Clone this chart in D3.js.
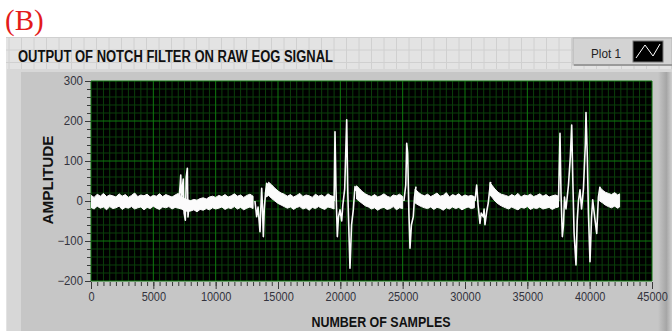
<!DOCTYPE html>
<html>
<head>
<meta charset="utf-8">
<script src="https://d3js.org/d3.v7.min.js"></script>
<style>
  body { margin: 0; background: #fff; }
  text { font-family: "Liberation Sans", Arial, sans-serif; }
</style>
</head>
<body>
<div id="chart"></div>
<script>
// axis ticks
const xTicks = [0, 5000, 10000, 15000, 20000, 25000, 30000, 35000, 40000, 45000];
const yTicks = [-200, -100, 0, 100, 200, 300];

// envelope of the dense noise band (null = band interrupted by a blink)
const bandSamples = [
  0, 250, 500, 750, 1000, 1250, 1500, 1750, 2000, 2250, 2500, 2750, 3000, 3250, 3500, 3750, 4000, 4250, 4500, 4750,
  5000, 5250, 5500, 5750, 6000, 6250, 6500, 6750, 7000,
  7250, 7500, 7750, 8000, 8250, 8500, 8750, 9000, 9250, 9500, 9750, 10000, 10250, 10500, 10750, 11000, 11250,
  11500, 11750, 12000, 12250, 12500, 12750, 13000, 13100,
  14050, 14250, 14500, 14750, 15000, 15250, 15500,
  15750, 16000, 16250, 16500, 16750, 17000, 17250, 17500, 17750, 18000, 18250, 18500, 18750, 19000, 19250, 19500, 19600,
  21300, 21500, 21750, 22000,
  22250, 22500, 22750, 23000, 23250, 23500, 23750, 24000, 24250, 24500, 24750, 25000, 25150,
  26000, 26250, 26500,
  26750, 27000, 27250, 27500, 27750, 28000, 28250, 28500, 28750, 29000, 29250, 29500, 29750, 30000, 30250, 30500, 30750, 30850,
  32000, 32200, 32400, 32650, 32900,
  33250, 33500, 33750, 34000, 34250, 34500, 34750, 35000, 35250, 35500, 35750, 36000, 36250, 36500, 36750, 37000, 37250, 37500, 37560,
  40800, 41000, 41250, 41500, 41750, 42000, 42250, 42400];
const bandHigh = [
  14, 9, 17, 12, 19, 11, 15, 13, 10, 18, 12, 16, 9, 14, 20, 11, 15, 13, 17, 10,
  14, 12, 18, 11, 16, 13, 10, 15, 19,
  10, 6, 3, 1, 4, 2, 6, 8, 5, 10, 12, 9, 14, 11, 16, 10, 13,
  18, 12, 15, 9, 14, 17, 12, null,
  30, 47, 40, 32, 25, 20, 17,
  12, 16, 10, 14, 19, 11, 15, 13, 9, 17, 12, 15, 10, 18, 13, 11, null,
  38, 32, 24, 18,
  14, 11, 16, 10, 13, 18, 12, 9, 15, 13, 17, 11, null,
  30, 22, 16,
  13, 17, 11, 15, 20, 12, 14, 21, 10, 16, 13, 18, 11, 15, 12, 14, 11, null,
  46, 38, 30, 22, 17,
  14, 11, 16, 12, 19, 10, 15, 13, 17, 11, 14, 18, 12, 16, 10, 13, 15, 12, null,
  35, 28, 22, 19, 16, 21, 15, 18];
const bandLow = [
  -16, -20, -13, -18, -15, -22, -14, -19, -17, -13, -21, -16, -18, -14, -20, -17, -15, -22, -16, -19,
  -13, -18, -21, -15, -17, -14, -20, -16, -18,
  -20, -24, -26, -25, -22, -27, -21, -23, -19, -22, -17, -20, -18, -15, -21, -17, -19,
  -14, -20, -16, -22, -18, -15, -19, null,
  10, 14, 6, 0, -6, -10, -14,
  -18, -15, -21, -16, -14, -20, -17, -23, -16, -19, -14, -18, -21, -15, -17, -20, null,
  5, 0, -6, -12,
  -15, -20, -17, -23, -18, -16, -21, -19, -14, -22, -17, -19, null,
  -5, -10, -14,
  -17, -19, -15, -21, -16, -18, -23, -17, -20, -15, -19, -16, -22, -18, -15, -19, -17, null,
  15, 8, 0, -7, -12,
  -17, -20, -15, -19, -22, -16, -18, -14, -21, -17, -19, -15, -20, -18, -16, -21, -17, -15, null,
  0, -4, -10, -14, -17, -13, -18, -15];

// blink / saccade excursions (null separates events)
const traceSamples = [
  7050, 7150, 7200, 7260, 7330, 7400, 7470, 7567, 7640, 7728, 7780, 7850, 7900, 7950,
  13150, 13290, 13400, 13556, 13620, 13690, 13750, 13823, 13900, 14000, 14090, 14200, 14250,
  19500, 19572, 19650, 19759, 19850, 19972, 20109, 20200, 20350, 20510, 20600, 20700, 20774, 20900, 21039, 21176, 21300, 21350,
  25100, 25250, 25323, 25400, 25500, 25588, 25700, 25853, 25950, 26070, 26150,
  30800, 30937, 31050, 31201, 31300, 31466, 31530, 31602, 31750, 31867, 31950, 32059, 32100,
  37500, 37620, 37700, 37807, 37900, 37980, 38100, 38300, 38450, 38559, 38650, 38750, 38904, 39000, 39100, 39225,
  39350, 39500, 39650, 39706, 39810, 39900, 40027, 40150, 40244, 40400, 40565, 40700, 40829, 40900];
const traceValues = [
  0, 40, 65, -10, 35, 55, -30, -48, 60, 82, -40, -15, -5, null,
  0, -39, -15, -77, -20, 32, -10, -89, -20, 20, 44, 40, null,
  0, 173, 30, -89, -40, -22, -50, -10, 30, 203, 20, -90, -168, -60, -22, 36, 25, null,
  0, 40, 144, 120, -30, -118, -60, -39, 10, 36, null,
  0, 40, -10, -56, -30, -40, -20, -59, -25, -5, 20, 48, null,
  0, 169, 20, -89, -60, 10, -20, 40, 111, 190, 50, -80, -160, -50, 0, 28,
  -20, 30, 140, 221, 111, -30, -152, -40, 3, -40, -81, 10, 36, null];

const width = 672, height = 331;
const plot = { left: 91, right: 652, top: 81, bottom: 281 };

const x = d3.scaleLinear().domain([0, 45000]).range([plot.left, plot.right]);
const y = d3.scaleLinear().domain([-200, 300]).range([plot.bottom, plot.top]);

const svg = d3.select('#chart')
  .append('svg')
    .attr('width', width)
    .attr('height', height);

// LabVIEW front panel grid
svg.append('rect')
  .attr('x', 6).attr('y', 37).attr('width', width - 6).attr('height', height - 37)
  .attr('fill', '#e3e3e3');
svg.append('g')
  .selectAll('line')
  .data(d3.range(9, width, 12.5))
  .join('line')
    .attr('x1', d => d).attr('x2', d => d)
    .attr('y1', 37).attr('y2', 70)
    .attr('stroke', '#d0d0d0');
svg.append('g')
  .selectAll('line')
  .data(d3.range(37.5, 70, 12.5))
  .join('line')
    .attr('x1', 6).attr('x2', width)
    .attr('y1', d => d).attr('y2', d => d)
    .attr('stroke', '#d0d0d0');

// graph control body
svg.append('rect')
  .attr('x', 7).attr('y', 69).attr('width', width - 7).attr('height', height - 69)
  .attr('fill', '#d7d7d7');
svg.append('rect')
  .attr('x', 21).attr('y', 72).attr('width', 640).attr('height', height - 72)
  .attr('fill', '#c6c6c6');

const grad = svg.append('defs').append('linearGradient').attr('id', 'edge');
grad.append('stop').attr('offset', '0%').attr('stop-color', '#c6c6c6');
grad.append('stop').attr('offset', '60%').attr('stop-color', '#a6a6a6');
grad.append('stop').attr('offset', '100%').attr('stop-color', '#cfcfcf');
svg.append('rect')
  .attr('x', 658).attr('y', 72).attr('width', 14).attr('height', height - 72)
  .attr('fill', 'url(#edge)');

// title
svg.append('text')
  .attr('x', 18).attr('y', 62)
  .attr('font-size', 16).attr('font-weight', 'bold').attr('fill', '#111')
  .attr('textLength', 315).attr('lengthAdjust', 'spacingAndGlyphs')
  .text('OUTPUT OF NOTCH FILTER ON RAW EOG SIGNAL');

svg.append('text')
  .attr('x', 5).attr('y', 30)
  .style('font-family', '"Liberation Serif", "Times New Roman", serif')
  .attr('font-size', 29).attr('fill', '#e31b1b')
  .text('(B)');

// legend
svg.append('rect')
  .attr('x', 573).attr('y', 38).attr('width', 99).attr('height', 27)
  .attr('fill', '#d3d3d3').attr('stroke', '#b4b4b4');
svg.append('line')
  .attr('x1', 574).attr('x2', 672).attr('y1', 65).attr('y2', 65)
  .attr('stroke', '#9a9a9a').attr('stroke-width', 2);
svg.append('text')
  .attr('x', 591).attr('y', 57.5)
  .attr('font-size', 13).attr('fill', '#222')
  .attr('textLength', 30).attr('lengthAdjust', 'spacingAndGlyphs')
  .text('Plot 1');
svg.append('rect')
  .attr('x', 633).attr('y', 41).attr('width', 30).attr('height', 21)
  .attr('fill', '#000').attr('stroke', '#777');
svg.append('polyline')
  .attr('points', '636,58 645,45 653,56 660,44')
  .attr('fill', 'none').attr('stroke', '#fff').attr('stroke-width', 1);

// plot area
svg.append('rect')
  .attr('x', plot.left).attr('y', plot.top)
  .attr('width', plot.right - plot.left).attr('height', plot.bottom - plot.top)
  .attr('fill', '#000');

const grid = svg.append('g');
grid.selectAll('line.minx')
  .data(d3.range(0, 45001, 500).filter(d => d % 5000 !== 0))
  .join('line')
    .attr('class', 'minx')
    .attr('x1', d => x(d)).attr('x2', d => x(d))
    .attr('y1', plot.top).attr('y2', plot.bottom)
    .attr('stroke', '#0b3f0b');
grid.selectAll('line.miny')
  .data(d3.range(-200, 301, 20).filter(d => d % 100 !== 0))
  .join('line')
    .attr('class', 'miny')
    .attr('x1', plot.left).attr('x2', plot.right)
    .attr('y1', d => y(d)).attr('y2', d => y(d))
    .attr('stroke', '#0b3f0b');
grid.selectAll('line.majx')
  .data(xTicks)
  .join('line')
    .attr('class', 'majx')
    .attr('x1', d => x(d)).attr('x2', d => x(d))
    .attr('y1', plot.top).attr('y2', plot.bottom)
    .attr('stroke', '#0f7a0f');
grid.selectAll('line.majy')
  .data(yTicks)
  .join('line')
    .attr('class', 'majy')
    .attr('x1', plot.left).attr('x2', plot.right)
    .attr('y1', d => y(d)).attr('y2', d => y(d))
    .attr('stroke', '#0f7a0f');

svg.append('clipPath').attr('id', 'clip')
  .append('rect')
    .attr('x', plot.left).attr('y', plot.top)
    .attr('width', plot.right - plot.left).attr('height', plot.bottom - plot.top);

const signal = svg.append('g').attr('clip-path', 'url(#clip)');

const bandData = bandSamples.map((s, i) => ({ s, hi: bandHigh[i], lo: bandLow[i] }));
const band = d3.area()
  .defined(d => d.hi !== null)
  .x(d => x(d.s))
  .y0(d => y(d.lo))
  .y1(d => y(d.hi));
signal.append('path')
  .datum(bandData)
  .attr('fill', '#fbfbfb')
  .attr('stroke', '#fbfbfb')
  .attr('stroke-width', 1)
  .attr('d', band);

const traceData = traceSamples.map((s, i) => ({ s, v: traceValues[i] }));
const trace = d3.line()
  .defined(d => d.v !== null)
  .x(d => x(d.s))
  .y(d => y(d.v));
signal.append('path')
  .datum(traceData)
  .attr('fill', 'none')
  .attr('stroke', '#fbfbfb')
  .attr('stroke-width', 1.6)
  .attr('stroke-linejoin', 'round')
  .attr('d', trace);

// axes
const yMinor = svg.append('g')
  .attr('transform', `translate(${plot.left},0)`)
  .call(d3.axisLeft(y).tickValues(d3.range(-200, 301, 20)).tickSize(4).tickFormat(''));
const yAxis = svg.append('g')
  .attr('transform', `translate(${plot.left},0)`)
  .call(d3.axisLeft(y).tickValues(yTicks).tickSize(6).tickPadding(2));
const xMinor = svg.append('g')
  .attr('transform', `translate(0,${plot.bottom + 1})`)
  .call(d3.axisBottom(x).tickValues(d3.range(0, 45001, 500)).tickSize(4).tickFormat(''));
const xAxis = svg.append('g')
  .attr('transform', `translate(0,${plot.bottom + 1})`)
  .call(d3.axisBottom(x).tickValues(xTicks).tickSize(7).tickPadding(3).tickFormat(d3.format('d')));

[yMinor, yAxis, xMinor, xAxis].forEach(g => {
  g.select('.domain').remove();
  g.selectAll('line').attr('stroke', '#3a3a3a');
});
yAxis.selectAll('text')
  .attr('font-size', 12).attr('fill', '#33333d')
  .attr('font-family', '"Liberation Sans", Arial, sans-serif')
  .attr('textLength', d => String(d).length * 6.4).attr('lengthAdjust', 'spacingAndGlyphs');
xAxis.selectAll('text')
  .attr('font-size', 12).attr('fill', '#33333d')
  .attr('font-family', '"Liberation Sans", Arial, sans-serif')
  .attr('textLength', d => String(d).length * 6.1).attr('lengthAdjust', 'spacingAndGlyphs');

// axis titles
svg.append('text')
  .attr('transform', 'translate(53,180) rotate(-90)')
  .attr('text-anchor', 'middle')
  .attr('font-size', 15).attr('font-weight', 'bold').attr('fill', '#111')
  .attr('textLength', 89).attr('lengthAdjust', 'spacingAndGlyphs')
  .text('AMPLITUDE');
svg.append('text')
  .attr('x', 381).attr('y', 327)
  .attr('text-anchor', 'middle')
  .attr('font-size', 14).attr('font-weight', 'bold').attr('fill', '#111')
  .attr('textLength', 139).attr('lengthAdjust', 'spacingAndGlyphs')
  .text('NUMBER OF SAMPLES');
</script>
</body>
</html>
